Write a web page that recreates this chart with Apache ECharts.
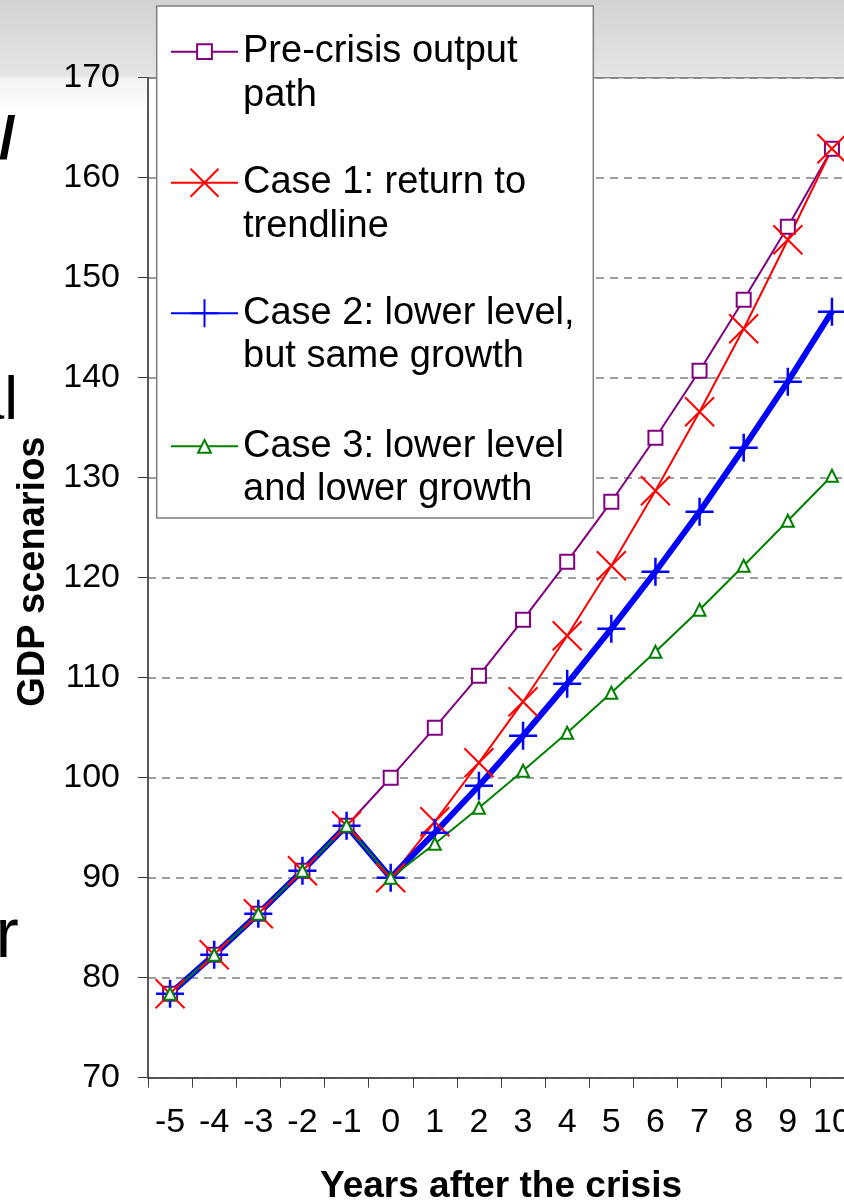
<!DOCTYPE html>
<html>
<head>
<meta charset="utf-8">
<title>GDP scenarios</title>
<script src="https://cdn.jsdelivr.net/npm/echarts@6/dist/echarts.min.js"></script>
<style>
  html, body { margin: 0; padding: 0; background: #fff; }
  #chart { width: 844px; height: 1201px; }
</style>
</head>
<body>
<div id="chart"></div>
<script>
// Years relative to the crisis
const years = ['-5', '-4', '-3', '-2', '-1', '0', '1', '2', '3', '4', '5', '6', '7', '8', '9', '10'];

// GDP index paths
const preCrisis = [78.4, 82.3, 86.4, 90.7, 95.2, 100, 105.0, 110.2, 115.8, 121.6, 127.6, 134.0, 140.7, 147.8, 155.1, 162.9];
const case1 = [78.4, 82.3, 86.4, 90.7, 95.2, 90, 95.6, 101.5, 107.6, 114.2, 121.2, 128.7, 136.6, 144.9, 153.8, 162.9];
const case2 = [78.4, 82.3, 86.4, 90.7, 95.2, 90, 94.5, 99.2, 104.2, 109.4, 114.9, 120.6, 126.6, 133.0, 139.6, 146.6];
const case3 = [78.4, 82.3, 86.4, 90.7, 95.2, 90, 93.4, 97.0, 100.7, 104.5, 108.5, 112.6, 116.8, 121.2, 125.7, 130.2];

const seriesNames = [
  'Pre-crisis output\npath',
  'Case 1: return to\ntrendline',
  'Case 2: lower level,\nbut same growth',
  'Case 3: lower level\nand lower growth'
];

const FONT = "'Liberation Sans', Arial, Helvetica, sans-serif";
const PURPLE = '#800080', RED = '#ff0000', BLUE = '#0000ff', GREEN = '#008000';

const chart = echarts.init(document.getElementById('chart'), null, { renderer: 'canvas' });

// One legend block per series so each keeps its own marker size.
// A blank leading line puts the first text line level with the icon.
const LINE_H = 43.5;
const iconCenters = [51.7, 182.7, 313.3, 446.3];
const iconHeights = [18.5, 35, 35, 16];
const legends = seriesNames.map((name, i) => ({
  data: [name],
  orient: 'vertical',
  left: 170,
  top: iconCenters[i] - LINE_H * 1.5,
  padding: 0,
  itemGap: 0,
  itemWidth: 67,
  itemHeight: iconHeights[i],
  selectedMode: false,
  z: 20,
  formatter: n => '\n' + n,
  textStyle: {
    fontFamily: FONT,
    fontSize: 38,
    color: '#000',
    lineHeight: LINE_H,
    backgroundColor: 'rgba(255,255,255,0)'
  }
}));

const crossPath = 'path://M0,0L10,10M10,0L0,10';
const plusPath = 'path://M5,0L5,10M0,5L10,5';

const option = {
  animation: false,
  textStyle: { fontFamily: FONT },
  backgroundColor: {
    type: 'linear', x: 0, y: 0, x2: 0, y2: 1,
    colorStops: [
      { offset: 0, color: '#d3d3d3' },
      { offset: 0.062, color: '#e4e4e4' },
      { offset: 0.066, color: '#f3f3f3' },
      { offset: 0.095, color: '#ffffff' },
      { offset: 1, color: '#ffffff' }
    ]
  },
  grid: {
    left: 148,
    top: 77.7,
    width: 706,
    height: 1000,
    outerBoundsMode: 'none',
    show: true,
    backgroundColor: '#ffffff',
    borderColor: '#858585',
    borderWidth: 1.5
  },
  legend: legends,
  xAxis: {
    type: 'category',
    data: years,
    boundaryGap: true,
    name: 'Years after the crisis',
    nameLocation: 'middle',
    nameGap: 91,
    nameTextStyle: { fontFamily: FONT, fontSize: 37, fontWeight: 'bold', color: '#000' },
    axisLine: { show: true, lineStyle: { color: '#404040', width: 1.5 } },
    axisTick: { show: true, length: 10, lineStyle: { color: '#404040', width: 1 } },
    axisLabel: { fontSize: 34, color: '#000', margin: 28, interval: 0 },
    splitLine: { show: false }
  },
  yAxis: {
    type: 'value',
    min: 70,
    max: 170,
    interval: 10,
    name: 'GDP scenarios',
    nameLocation: 'middle',
    nameGap: 92,
    nameTextStyle: { fontFamily: FONT, fontSize: 38, fontWeight: 'bold', color: '#000', padding: [0, 0, 0, 12] },
    axisLine: { show: true, lineStyle: { color: '#404040', width: 1.5 } },
    axisTick: { show: true, length: 10, lineStyle: { color: '#404040', width: 1 } },
    axisLabel: { fontSize: 34, color: '#000', margin: 28 },
    splitLine: { show: true, lineStyle: { color: '#808080', width: 1.5, type: [8, 6] } }
  },
  series: [
    {
      name: seriesNames[0],
      type: 'line',
      data: preCrisis,
      symbol: 'rect',
      symbolSize: 14,
      color: PURPLE,
      lineStyle: { color: PURPLE, width: 2 },
      itemStyle: { color: '#ffffff', borderColor: PURPLE, borderWidth: 2 }
    },
    {
      name: seriesNames[1],
      type: 'line',
      data: case1,
      symbol: crossPath,
      symbolSize: 29,
      color: RED,
      lineStyle: { color: RED, width: 2 },
      itemStyle: { color: 'none', borderColor: RED, borderWidth: 2 }
    },
    {
      name: seriesNames[2],
      type: 'line',
      data: case2,
      symbol: plusPath,
      symbolSize: 28,
      color: BLUE,
      lineStyle: { color: BLUE, width: 6 },
      itemStyle: { color: 'none', borderColor: BLUE, borderWidth: 2.5 }
    },
    {
      name: seriesNames[3],
      type: 'line',
      data: case3,
      symbol: 'triangle',
      symbolSize: 12,
      color: GREEN,
      lineStyle: { color: GREEN, width: 2 },
      itemStyle: { color: '#ffffff', borderColor: GREEN, borderWidth: 2 }
    }
  ],
  graphic: [
    // legend frame
    {
      type: 'rect',
      z: 10,
      shape: { x: 156.7, y: 6, width: 436.6, height: 512 },
      style: { fill: '#ffffff', stroke: '#7f7f7f', lineWidth: 1.5 }
    },
    // slide text running in from the left edge
    {
      type: 'text', z: 1, x: -1, y: 162 - 0.35 * 60,
      style: { text: '/', font: 'bold 60px ' + FONT, fill: '#000', align: 'left', verticalAlign: 'middle' }
    },
    {
      type: 'text', z: 1, x: 18, y: 424 - 0.35 * 62,
      style: { text: 'al', font: '62px ' + FONT, fill: '#000', align: 'right', verticalAlign: 'middle' }
    },
    {
      type: 'text', z: 1, x: -4.6, y: 962 - 0.35 * 70,
      style: { text: 'r', font: '70px ' + FONT, fill: '#000', align: 'left', verticalAlign: 'middle' }
    }
  ]
};

chart.setOption(option);
</script>
</body>
</html>
